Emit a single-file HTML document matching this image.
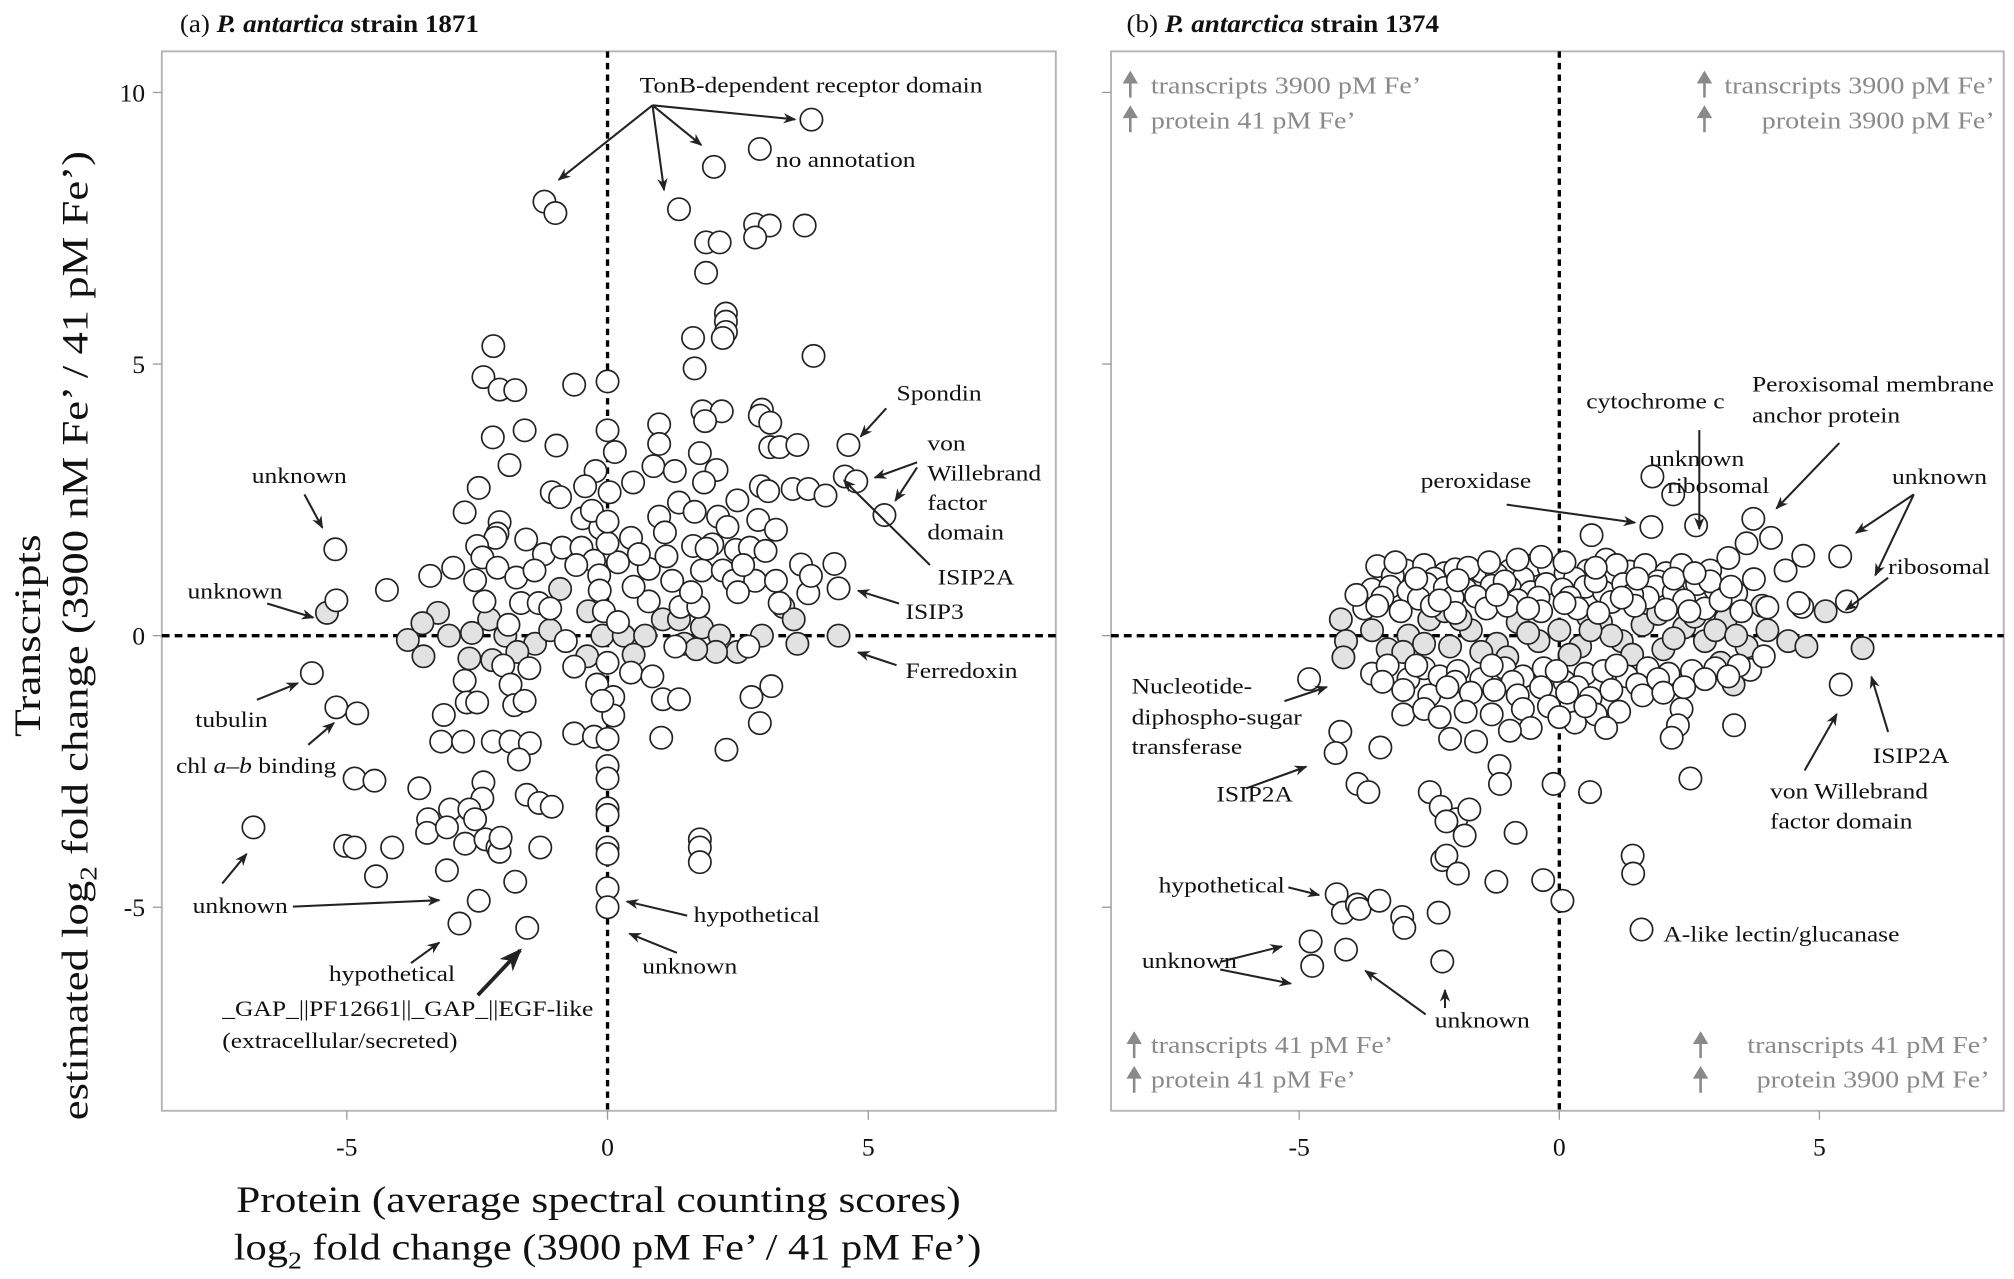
<!DOCTYPE html>
<html><head><meta charset="utf-8"><style>
html,body{margin:0;padding:0;background:#fff}
svg{display:block}
text{font-family:"Liberation Serif",serif;fill:#111}
.ann{font-size:17px}
.tick{font-size:20px}
.gt{font-size:19px;fill:#8a8a8a}
.ttl{font-size:19.5px}
.axt{font-size:29px}
</style></head><body>
<svg id="chart" width="2014" height="1279" viewBox="0 0 1568 996" preserveAspectRatio="none" xmlns="http://www.w3.org/2000/svg">
<defs>
<marker id="ah" markerWidth="10" markerHeight="8" refX="9" refY="4" orient="auto" markerUnits="userSpaceOnUse"><path d="M0,0 L10,4 L0,8 L3,4 z" fill="#222"/></marker>
<marker id="ahb" markerWidth="18" markerHeight="14" refX="16" refY="7" orient="auto" markerUnits="userSpaceOnUse"><path d="M0,0 L18,7 L0,14 L5,7 z" fill="#222"/></marker>
</defs>
<g id="frames"></g>
<g id="pa"></g>
<g id="pb"></g>
<g id="ann"></g>
</svg>
<script>
// ---- data (log2 fold change: protein x, transcripts y) ----
const xTicks = [-5, 0, 5];
const yTicks = [10, 5, 0, -5];
const xTickLabels = ["-5", "0", "5"];
const yTickLabels = ["10", "5", "0", "-5"];

const aWhite = [[3.91,9.5],[2.92,8.96],[2.04,8.63],[-1.21,7.99],[-1.0,7.78],[1.37,7.85],[2.83,7.57],[3.11,7.55],[2.83,7.33],[3.78,7.55],[1.89,7.24],[2.15,7.24],[1.89,6.68],[2.27,5.93],[2.27,5.78],[2.27,5.59],[2.21,5.48],[1.64,5.48],[3.95,5.15],[1.67,4.92],[-2.19,5.33],[-2.38,4.76],[-2.07,4.53],[-1.77,4.52],[-0.64,4.62],[0,4.68],[-2.2,3.65],[-1.59,3.78],[-0.98,3.5],[-1.88,3.14],[-2.47,2.72],[-2.74,2.27],
[1.82,4.13],[2.19,4.13],[2.96,4.16],[2.92,4.05],[3.12,3.92],[0.99,3.89],[0.99,3.53],[1.87,3.95],[3.12,3.47],[3.3,3.47],[3.64,3.51],[4.62,3.51],[1.77,3.36],[0,3.78],[0.14,3.38],[0.88,3.12],[1.29,3.03],[2.09,3.05],[1.85,2.82],[4.55,2.93],[4.77,2.84],[5.31,2.22],[2.94,2.75],[3.08,2.66],[3.55,2.7],[3.85,2.7],[4.18,2.58],[0.49,2.82],[-0.23,3.03],[-0.43,2.75],[-1.07,2.64],[-0.91,2.55],[0.04,2.64],[1.37,2.45],[1.67,2.28],[2.49,2.49],[0.99,2.19],[2.12,2.19],[2.89,2.13],[3.23,1.95],[-0.48,2.16],[-0.14,1.98],[-2.07,2.09],[-2.11,1.88],[-2.15,1.8],[-1.56,1.77],[-2.5,1.65],[-2.4,1.44],[-2.11,1.25],[-1.75,1.07],[-2.96,1.25],[-3.4,1.1],[-4.23,0.84],[-5.22,1.59],[-5.2,0.65],
[-1.22,1.5],[-0.87,1.62],[-0.5,1.62],[-0.26,1.38],[-0.16,1.11],[0.2,1.35],[0.45,1.8],[0.79,1.23],[1.13,1.46],[1.24,1.01],[1.64,1.65],[2.01,1.68],[2.46,1.58],[2.73,1.62],[3.03,1.56],[1.81,1.2],[2.21,1.2],[2.42,1.01],[2.83,1.01],[3.23,1.01],[3.71,1.31],[3.85,0.78],[4.35,1.32],[4.43,0.87],[0.79,0.63],[1.4,0.53],[1.74,0.53],[-2.54,1.02],[-2.36,0.63],[-1.66,0.6],[-1.32,0.6],[-0.15,0.83],[-0.07,0.45],
[-1.1,0.5],[-0.6,1.3],[0.5,0.9],[1.6,0.8],[2.5,0.8],[3.3,0.6],[-2.0,-0.55],[-1.5,-0.6],[1.3,-0.2],[2.7,-0.2],[0.2,0.25],[-0.8,-0.1],[3.9,1.1],[1.1,1.9],[2.3,2.0],[0.6,1.5],[-1.4,1.2],[-0.3,2.3],[1.9,1.6],[2.6,1.3],[-1.9,0.2],[0.0,1.7],[0.0,2.1],[0.0,-0.5],
[-2.74,-0.83],[-2.7,-1.23],[-2.5,-1.23],[-3.14,-1.46],[-1.86,-0.9],[-1.79,-1.28],[-1.59,-1.2],[-0.64,-0.57],[-0.2,-0.9],[0.11,-1.13],[0.11,-1.47],[0.45,-0.68],[0.86,-0.75],[1.06,-1.17],[1.37,-1.17],[2.76,-1.13],[3.14,-0.93],[2.92,-1.61],[2.28,-2.1],[1.03,-1.88],[-0.64,-1.8],[-0.26,-1.86],[-5.67,-0.69],[-5.2,-1.32],[-4.8,-1.43],
[-3.19,-1.95],[-2.77,-1.95],[-2.2,-1.95],[-1.86,-1.95],[-1.49,-1.98],[-1.7,-2.28],[-4.85,-2.63],[-4.47,-2.67],[-3.61,-2.81],[-2.38,-2.7],[-2.4,-3.0],[-1.55,-2.93],[-1.31,-3.08],[-1.07,-3.15],[-3.02,-3.2],[-2.65,-3.2],[-2.54,-3.38],[-3.44,-3.38],[-3.46,-3.63],[-3.08,-3.53],[-2.73,-3.83],[-2.34,-3.75],[-2.11,-3.9],[-2.07,-3.98],[-1.29,-3.9],[-2.05,-3.72],[-5.03,-3.87],[-4.85,-3.9],[-4.13,-3.9],[-4.44,-4.43],[-6.79,-3.53],[-3.08,-4.32],[-1.77,-4.53],[-2.47,-4.88],[-2.84,-5.3],[-1.54,-5.38],
[0,-2.4],[0,-2.63],[0,-3.18],[0,-3.3],[0,-3.9],[0,-4.02],[0,-4.65],[0,-5.0],[0,-1.9],[-0.1,-1.2],[1.77,-3.75],[1.77,-3.9],[1.77,-4.17]];

const aGray = [[-3.83,-0.08],[-3.53,-0.38],[-3.25,0.42],[-3.55,0.23],[-3.04,0],[-2.65,-0.42],[-2.27,0.3],[-2.21,-0.45],[-1.96,0],[-1.39,-0.15],[-0.91,0.86],[-0.37,0.45],[-0.1,0],[0.31,0],[0.72,0],[1.06,0.3],[1.47,-0.15],[1.81,0.15],[2.15,0],[2.49,-0.3],[3.37,0.53],[3.57,0.3],[3.64,-0.15],[4.43,0],[1.37,0.3],[2.96,0],[2.08,-0.3],[-1.73,-0.3],[-0.39,-0.38],[-5.38,0.42],[-2.6,0.05],[-1.1,0.1],[0.5,-0.35],[1.7,-0.25]];

const bWhite = [[1.79,2.93],[2.19,2.6],[2.63,2.03],[1.77,2.0],[3.73,2.15],[4.07,1.8],[3.6,1.7],[4.69,1.47],[4.35,1.2],[3.74,1.04],[5.4,1.46],[5.53,0.63],[4.67,0.53],[5.41,-0.9],[0.62,1.85],[3.25,1.43],[2.9,1.2],
[-4.81,-0.8],[-4.21,-1.77],[-4.3,-2.16],[-3.44,-2.06],[-3.88,-2.73],[-3.67,-2.88],[-2.49,-2.88],[-2.28,-3.15],[-1.98,-3.38],[-2.17,-3.42],[-1.82,-3.68],[-1.73,-3.2],[-1.15,-2.4],[-1.14,-2.73],[-0.84,-3.63],[-2.25,-4.13],[-2.17,-4.05],[-1.95,-4.38],[-1.21,-4.53],[-0.31,-4.5],[-0.11,-2.73],[0.59,-2.88],[0.06,-4.88],[2.52,-2.63],[1.41,-4.05],[1.42,-4.38],[1.58,-5.41],
[-4.28,-4.76],[-4.16,-5.1],[-3.89,-4.95],[-3.84,-5.03],[-3.46,-4.88],[-3.02,-5.18],[-2.98,-5.38],[-2.32,-5.1],[-4.78,-5.63],[-4.75,-6.08],[-4.1,-5.78],[-2.25,-6.0],[3.36,-1.65],[3.67,-0.63],[3.93,-0.38],[2.35,-1.35],[2.28,-1.65],[2.16,-1.88],
[-3.5,1.28],[-2.95,1.2],[-2.2,1.15],[-2.0,1.22],[-1.5,1.18],[-0.95,1.2],[-0.5,1.3],[-0.2,1.25],[0.12,1.15],[0.55,1.2],[0.95,1.1],[1.35,1.18],[1.65,1.3],[2.05,1.15],[2.35,1.3],[-3.2,1.1],[-1.2,1.12],[-0.7,1.05],[0.3,1.05],[1.9,1.0],[-2.6,1.3],[-1.75,1.25],[-0.35,1.45],[0.9,1.4],[1.1,1.3],[-2.4,1.05],
[-3.6,0.85],[-3.25,0.9],[-2.9,0.82],[-2.55,0.95],[-2.2,0.88],[-1.8,0.85],[-1.3,0.92],[-0.95,0.88],[-0.55,0.8],[-0.25,0.95],[0.06,0.85],[0.5,0.9],[0.86,0.8],[1.23,0.95],[1.55,0.85],[1.85,0.9],[2.2,0.8],[2.65,0.95],[3.0,0.85],[3.4,0.78],[-3.4,0.7],[-2.7,0.68],[-1.6,0.72],[-0.8,0.65],[0.2,0.7],[1.0,0.62],[1.7,0.7],[2.4,0.65],[-1.05,1.0],[-2.05,0.7],[-0.4,0.7],[0.7,1.0],[1.4,0.75],[2.9,1.0],
[-3.75,0.5],[-3.05,0.45],[-2.45,0.55],[-2.0,0.42],[-1.4,0.5],[-1.0,0.55],[-0.35,0.45],[0.35,0.5],[0.75,0.42],[1.45,0.55],[2.05,0.48],[2.8,0.5],[3.5,0.45],[4.0,0.52],[4.6,0.6],
[-3.15,1.35],[-2.75,1.05],[-1.95,1.02],[-1.35,1.35],[-0.8,1.4],[0.1,1.35],[0.7,1.25],[1.5,1.05],[2.2,1.05],[2.6,1.15],[3.1,0.65],[-3.9,0.75],[-3.5,0.55],[-2.3,0.65],[-1.2,0.75],[-0.6,0.5],[0.1,0.6],[1.2,0.7],[2.5,0.45],[3.3,0.9],
[-3.6,-0.7],[-3.3,-0.55],[-2.9,-0.8],[-2.6,-0.6],[-2.3,-0.75],[-1.95,-0.65],[-1.5,-0.8],[-1.05,-0.6],[-0.7,-0.75],[-0.3,-0.6],[0.1,-0.85],[0.5,-0.7],[0.85,-0.65],[1.3,-0.75],[1.7,-0.6],[2.1,-0.7],[2.55,-0.65],[3.0,-0.6],[3.45,-0.55],
[-3.4,-0.85],[-2.75,-0.55],[-2.0,-0.85],[-1.3,-0.55],[-0.9,-0.85],[-0.05,-0.65],[0.35,-0.95],[1.1,-0.55],[1.5,-0.9],[1.9,-0.8],[2.8,-0.8],[3.25,-0.75],
[-3.0,-1.0],[-2.5,-1.1],[-2.15,-0.95],[-1.7,-1.05],[-1.25,-1.0],[-0.8,-1.1],[-0.35,-0.95],[0.15,-1.05],[0.6,-1.15],[1.0,-1.0],[1.6,-1.1],[2.0,-1.05],[2.4,-0.95],
[-3.0,-1.45],[-2.6,-1.35],[-2.3,-1.5],[-1.8,-1.4],[-1.3,-1.45],[-0.7,-1.35],[-0.2,-1.3],[0.3,-1.6],[0.7,-1.45],[1.15,-1.4],[0.9,-1.7],[-0.55,-1.7],[-0.95,-1.75],[-2.1,-1.9],[-1.6,-1.95],[0.0,-1.5],[0.5,-1.3]];

const bGray = [[-4.2,0.3],[-4.1,-0.1],[-4.15,-0.4],[-3.3,-0.25],[-2.9,0.0],[-2.5,0.3],[-2.1,-0.2],[-1.7,0.1],[-1.2,-0.15],[-0.8,0.25],[-0.4,-0.1],[0.0,0.1],[0.4,-0.2],[0.8,0.25],[1.2,-0.1],[1.6,0.2],[2.0,-0.25],[2.4,0.15],[2.8,-0.1],[3.2,0.3],[3.6,-0.2],[4.0,0.1],[4.4,-0.1],[4.75,-0.2],[5.12,0.45],[5.83,-0.23],[3.9,0.55],[3.1,-0.5],[-3.6,0.1],[-1.0,-0.4],[1.9,0.4],[3.35,-0.9],[-2.2,0.45],[0.55,0.35],[-3.0,-0.3],[-2.6,-0.15],[-1.5,-0.3],[-0.6,0.05],[0.2,-0.35],[1.0,0.0],[1.4,-0.35],[2.2,-0.05],[2.6,0.35],[3.0,0.1],[3.4,0.0],[-1.9,0.3],[0.6,0.1]];

// ---- layout ----
const NS = "http://www.w3.org/2000/svg";
function mk(tag, attrs, parent){const e=document.createElementNS(NS,tag);for(const k in attrs)e.setAttribute(k,attrs[k]);parent.appendChild(e);return e;}
const yTop=40, yBot=865, y0=495, yUnit=42.3;
const panels = {
  a:{left:126,right:822,x0:473,xUnit:40.6},
  b:{left:865,right:1560,x0:1214,xUnit:40.5}
};
const sy = v => y0 - v*yUnit;
function sx(p, v){return panels[p].x0 + v*panels[p].xUnit;}
const frames=document.getElementById('frames');

function drawPanel(p, g, white, gray, showYLabels){
  const P=panels[p];
  const r=mk('rect',{x:P.left,y:yTop,width:P.right-P.left,height:yBot-yTop,fill:'none',stroke:'#b5b5b5','stroke-width':1.5},frames);
  
  
  xTicks.forEach((t,i)=>{
    const x=sx(p,t);
    const l=mk('line',{x1:x,x2:x,y1:yBot,y2:yBot+7,stroke:'#999'},frames);
    
    
    const tx=mk('text',{x:x,y:yBot+35,'text-anchor':'middle',class:'tick'},frames);
    tx.textContent=xTickLabels[i];
    
    
  });
  yTicks.forEach((t,i)=>{
    const y=sy(t);
    const l=mk('line',{x1:P.left-7,x2:P.left,y1:y,y2:y,stroke:'#999'},frames);
    
    
    if(showYLabels){
      const tx=mk('text',{x:P.left-13,y:y+7,'text-anchor':'end',class:'tick'},frames);
      tx.textContent=yTickLabels[i];
      
      
    }
  });
  const hz=mk('line',{x1:P.left,x2:P.right,y1:sy(0),y2:sy(0),stroke:'#000','stroke-width':2.6,'stroke-dasharray':'6 4'},g);
  
  
  const vt=mk('line',{x1:sx(p,0),x2:sx(p,0),y1:yTop,y2:yBot,stroke:'#000','stroke-width':2.6,'stroke-dasharray':'5 4'},g);
  
  
  gray.forEach(d=>{
    const c=mk('circle',{cx:sx(p,d[0]),cy:sy(d[1]),r:8.7,fill:'#e2e2e2',stroke:'#222','stroke-width':1.3},g);
    
    
  });
  white.forEach(d=>{
    const c=mk('circle',{cx:sx(p,d[0]),cy:sy(d[1]),r:8.7,fill:'#fff',stroke:'#222','stroke-width':1.3},g);
    
    
  });
}
drawPanel('a',document.getElementById('pa'),aWhite,aGray,true);
drawPanel('b',document.getElementById('pb'),bWhite,bGray,false);

// ---- annotations ----
const ann=document.getElementById('ann');
function txt(x,y,s,cls,name,anchor,scale,rot){
  const sc = scale || 1.17;
  const t=mk('text',{x:0,y:0,class:cls||'ann','text-anchor':anchor||'start',transform:`translate(${x},${y})${rot?' rotate(-90)':''} scale(${sc},1)`},ann);
  t.innerHTML=s;
  
  
  return t;
}
function arr(x1,y1,x2,y2,big){
  const l=mk('line',{x1:x1,y1:y1,x2:x2,y2:y2,stroke:'#222','stroke-width':big?3:1.6,'marker-end':big?'url(#ahb)':'url(#ah)'},ann);
  
  
}
function garr(x,y){
  const g=mk('g',{},ann);
  
  
  mk('line',{x1:x,y1:y+12,x2:x,y2:y-4,stroke:'#8a8a8a','stroke-width':2},g);
  mk('path',{d:`M${x-6},${y+1} L${x},${y-9} L${x+6},${y+1} z`,fill:'#8a8a8a'},g);
}
// titles
txt(140,25,'(a) <tspan font-weight="bold" font-style="italic">P. antartica</tspan><tspan font-weight="bold"> strain 1871</tspan>','ttl','panel-a-title','start',1.08);
txt(877,25,'(b) <tspan font-weight="bold" font-style="italic">P. antarctica</tspan><tspan font-weight="bold"> strain 1374</tspan>','ttl','panel-b-title','start',1.08);
// axis titles
txt(31,495,'Transcripts','axt','y-axis-title','middle',1.22,true);
txt(68,495,'estimated log<tspan style="font-size:19px" dy="7">2</tspan><tspan dy="-7"> fold change  (3900 nM Fe’ / 41 pM Fe’)</tspan>','axt','y-axis-title-line2','middle',1.2,true);
txt(466,944,'Protein (average spectral counting scores)','axt','x-axis-title','middle',1.16);
txt(473,981,'log<tspan style="font-size:19px" dy="7">2</tspan><tspan dy="-7"> fold change  (3900 pM Fe’ / 41 pM Fe’)</tspan>','axt','x-axis-title-line2','middle',1.14);

// panel a labels
txt(498,72,'TonB-dependent receptor domain');
arr(508,82,435,140);arr(508,82,517,148);arr(508,82,546,113);arr(508,82,619,93);
txt(604,130,'no annotation');
txt(698,312,'Spondin');arr(690,318,670,340);
txt(722,351,'von');txt(722,374,'Willebrand');txt(722,397,'factor');txt(722,420,'domain');
arr(714,360,681,372);arr(714,364,697,390,false);
txt(730,455,'ISIP2A');arr(724,440,657,374);
txt(705,482,'ISIP3');arr(700,470,668,460);
txt(705,528,'Ferredoxin');arr(698,518,668,508);
txt(196,376,'unknown');arr(237,385,251,411);
txt(146,466,'unknown');arr(208,470,244,481);
txt(152,566,'tubulin');arr(200,545,232,532);
txt(137,602,'chl <tspan font-style="italic">a</tspan>–<tspan font-style="italic">b</tspan> binding');arr(240,580,260,563);
txt(150,711,'unknown');arr(173,688,192,665);arr(228,706,342,701);
txt(256,764,'hypothetical');arr(320,750,342,734);
txt(173,791,'_GAP_||PF12661||_GAP_||EGF-like');txt(173,816,'(extracellular/secreted)');
arr(372,775,405,740,true);
txt(540,718,'hypothetical');arr(535,713,488,702);
txt(500,758,'unknown');arr(527,742,490,727);

// panel b labels
garr(880,64);txt(896,73,'transcripts 3900 pM Fe’','gt','quadrant-label','start',1.15);
garr(880,91);txt(896,100,'protein 41 pM Fe’','gt','quadrant-label','start',1.15);
garr(1327,64);txt(1553,73,'transcripts 3900 pM Fe’','gt','quadrant-label','end',1.15);
garr(1327,91);txt(1553,100,'protein 3900 pM Fe’','gt','quadrant-label','end',1.15);
garr(883,812);txt(896,820,'transcripts 41 pM Fe’','gt','quadrant-label','start',1.15);
garr(883,839);txt(896,847,'protein 41 pM Fe’','gt','quadrant-label','start',1.15);
garr(1324,812);txt(1549,820,'transcripts 41 pM Fe’','gt','quadrant-label','end',1.15);
garr(1324,839);txt(1549,847,'protein 3900 pM Fe’','gt','quadrant-label','end',1.15);
txt(1235,318,'cytochrome c');arr(1323,335,1323,412);
txt(1364,305,'Peroxisomal membrane');txt(1364,329,'anchor protein');arr(1432,345,1383,396);
txt(1284,363,'unknown');txt(1298,384,'ribosomal');
txt(1106,380,'peroxidase');arr(1173,393,1273,407);
txt(1473,377,'unknown');arr(1490,385,1445,415);arr(1490,385,1460,448);
txt(1470,447,'ribosomal');arr(1470,450,1437,475);
txt(881,540,'Nucleotide-');txt(881,564,'diphospho-sugar');txt(881,587,'transferase');arr(1000,546,1033,535);
txt(947,624,'ISIP2A');arr(970,614,1017,597);
txt(902,695,'hypothetical');arr(1003,691,1027,697);
txt(889,754,'unknown');arr(950,749,998,737);arr(950,755,1005,766);
txt(1117,800,'unknown');arr(1125,785,1125,771);arr(1110,790,1063,756);
txt(1295,733,'A-like lectin/glucanase');
txt(1458,594,'ISIP2A');arr(1470,570,1457,527);
txt(1378,622,'von Willebrand');txt(1378,645,'factor domain');arr(1405,600,1430,556);
</script>
</body></html>
